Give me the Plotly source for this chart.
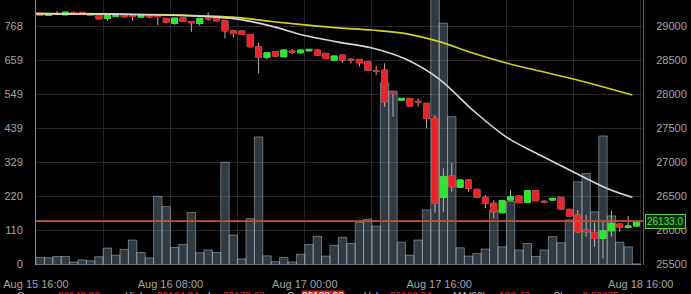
import numpy as np
import pandas as pd
import plotly.graph_objects as go

# ---------------- data ----------------
start = pd.Timestamp("2023-08-15 16:00")
n = 72
hours = [start + pd.Timedelta(hours=i) for i in range(n)]
centers = [h + pd.Timedelta(minutes=30) for h in hours]

opens = [29194, 29165, 29184, 29174, 29205, 29210, 29194, 29179, 29121, 29150,
         29170, 29160, 29140, 29159, 29155, 29121, 29047, 29129, 29076, 29047,
         29120, 29129, 29085, 28938, 28934, 28885, 28703, 28547, 28629, 28556,
         28640, 28615, 28644, 28654, 28606, 28507, 28581, 28520, 28518, 28482,
         28350, 28360, 28030, 27919, 27944, 27900, 27871, 27650, 26488, 26801,
         26635, 26743, 26606, 26488, 26400, 26262, 26448, 26507, 26415, 26585,
         26430, 26448, 26488, 26312, 26228, 26007, 25968, 25885, 25997, 26096,
         26047, 26066]
highs = [29200, 29190, 29225, 29220, 29225, 29215, 29198, 29182, 29168, 29175,
         29175, 29165, 29182, 29162, 29169, 29125, 29130, 29132, 29080, 29125,
         29209, 29135, 29090, 28945, 28940, 28890, 28762, 28620, 28634, 28660,
         28665, 28658, 28672, 28660, 28612, 28572, 28586, 28532, 28522, 28487,
         28419, 28459, 28041, 27950, 27950, 27944, 27876, 27699, 26915, 26997,
         26750, 26750, 26612, 26522, 26448, 26444, 26596, 26512, 26590, 26590,
         26448, 26480, 26493, 26318, 26302, 26228, 26115, 26129, 26291, 26100,
         26213, 26140]
lows = [29160, 29160, 29170, 29170, 29174, 29190, 29160, 29110, 29085, 29145,
        29135, 29085, 29135, 29125, 29022, 29047, 29027, 29076, 28924, 29012,
        29085, 29080, 28826, 28841, 28880, 28698, 28312, 28518, 28560, 28550,
        28596, 28610, 28640, 28575, 28525, 28500, 28468, 28459, 28409, 28355,
        28287, 27821, 27674, 27914, 27825, 27821, 27503, 26262, 26276, 26571,
        26630, 26571, 26482, 26326, 26179, 26255, 26442, 26404, 26410, 26432,
        26400, 26440, 26310, 26208, 25958, 25909, 25762, 25591, 25909, 25982,
        26032, 26060]
closes = [29165, 29184, 29180, 29213, 29200, 29194, 29165, 29115, 29165, 29165,
          29145, 29150, 29179, 29145, 29150, 29066, 29125, 29081, 29056, 29121,
          29115, 29085, 28938, 28900, 28885, 28703, 28547, 28615, 28566, 28654,
          28625, 28654, 28665, 28581, 28532, 28566, 28507, 28510, 28468, 28360,
          28340, 27894, 28018, 27944, 27831, 27890, 27650, 26400, 26791, 26644,
          26743, 26621, 26488, 26400, 26276, 26438, 26497, 26409, 26585, 26438,
          26420, 26473, 26316, 26213, 25982, 25982, 25885, 25997, 26106, 26047,
          26066, 26133]
volumes = [23, 22, 26, 26, 8, 15, 12, 25, 53, 30,
           49, 79, 39, 21, 220, 187, 55, 65, 168, 38,
           47, 39, 330, 95, 18, 148, 412, 28, 9, 23,
           8, 33, 65, 91, 27, 62, 88, 68, 136, 146,
           124, 587, 560, 72, 30, 79, 176, 900, 779, 477,
           54, 27, 36, 50, 176, 57, 203, 47, 68, 26,
           47, 90, 70, 144, 267, 294, 170, 415, 157, 72,
           57, 2]

# moving averages (read every 4 hours + last point)
ma_idx = [0, 4, 8, 12, 16, 20, 24, 28, 32, 36, 40, 44, 48, 52, 56, 60, 64, 68, 71]
ma_fast = [29191, 29188, 29187, 29179, 29166, 29150, 29110, 29007, 28868, 28772,
           28684, 28522, 28228, 27772, 27375, 27110, 26860, 26618, 26488]
ma_slow = [29191, 29187, 29184, 29179, 29172, 29157, 29132, 29076, 29025, 28981,
           28949, 28897, 28779, 28610, 28463, 28346, 28228, 28096, 27993]

last_price = 26133.0
ref_price = 26145.0

vol_ticks = [0, 110, 220, 329, 439, 549, 659, 768]
price_ticks = [25500, 26000, 26500, 27000, 27500, 28000, 28500, 29000]
x_tick_times = [start + pd.Timedelta(hours=8 * k) for k in range(10)]
x_tick_text = ["Aug 15 16:00", "", "Aug 16 08:00", "", "Aug 17 00:00", "",
               "Aug 17 16:00", "", "", "Aug 18 16:00"]

status_items = [("Open:", "#bbbbbb", None), ("26146.00", "#e8262a", None),
                ("High:", "#bbbbbb", None), ("26194.04", "#e8262a", None),
                ("L:", "#bbbbbb", None), ("26172.00 ▼", "#e8262a", None),
                ("C:", "#bbbbbb", None), ("26133.00", "#ffffff", "#e01818"),
                ("Vol:", "#bbbbbb", None), ("26166.84", "#e8262a", None),
                ("MA(99):", "#bbbbbb", None), ("133.47", "#e8262a", None),
                ("Chg:", "#bbbbbb", None), ("-0.00075", "#e8262a", None)]
status_x = [16, 57, 124, 156, 207, 222, 286, 301, 363, 389, 452, 498, 552, 578]

# ---------------- figure ----------------
RED = "#e8262a"
GREEN = "#2fe52f"
WICK = "#b4b4b4"

o = np.array(opens, float)
c = np.array(closes, float)
body_hi = np.maximum(o, c)
body_lo = np.minimum(o, c)

fig = go.Figure()

fig.add_trace(go.Bar(
    x=centers, y=volumes, yaxis="y", width=3600000,
    marker=dict(color="rgba(130,150,172,0.38)",
                line=dict(color="rgba(200,215,230,0.45)", width=1)),
    hoverinfo="skip", showlegend=False))

fig.add_trace(go.Candlestick(
    x=centers, open=opens, high=highs, low=lows, close=closes, yaxis="y2",
    increasing=dict(line=dict(color=WICK, width=1), fillcolor=WICK),
    decreasing=dict(line=dict(color=WICK, width=1), fillcolor=WICK),
    whiskerwidth=0, hoverinfo="skip", showlegend=False))

fig.add_trace(go.Candlestick(
    x=centers, open=opens, high=body_hi, low=body_lo, close=closes, yaxis="y2",
    increasing=dict(line=dict(color=GREEN, width=1), fillcolor=GREEN),
    decreasing=dict(line=dict(color=RED, width=1), fillcolor=RED),
    whiskerwidth=0, hoverinfo="skip", showlegend=False))

ma_x = [hours[i] for i in ma_idx]
fig.add_trace(go.Scatter(x=ma_x, y=ma_slow, yaxis="y2", mode="lines",
                         line=dict(color="#d2d21e", width=1.6, shape="spline"),
                         hoverinfo="skip", showlegend=False))
fig.add_trace(go.Scatter(x=ma_x, y=ma_fast, yaxis="y2", mode="lines",
                         line=dict(color="#d8d8d8", width=1.6, shape="spline"),
                         hoverinfo="skip", showlegend=False))

fig.add_shape(type="line", xref="paper", x0=0, x1=1, yref="y2",
              y0=last_price, y1=last_price, line=dict(color="#3d9a2a", width=1))
fig.add_shape(type="line", xref="paper", x0=0, x1=1, yref="y2",
              y0=ref_price, y1=ref_price, line=dict(color="#c8501e", width=1))

fig.add_annotation(x=1, xref="paper", y=last_price, yref="y2", xanchor="left",
                   xshift=2, text=f"{last_price:.1f}", showarrow=False,
                   font=dict(family="Liberation Sans", size=10, color="#3ee83e"),
                   bgcolor="#0a2a0a", bordercolor="#5fcf3a", borderwidth=1, borderpad=1)

plot_l, plot_w = 36, 607
for (txt, col, bg), px in zip(status_items, status_x):
    kw = dict(bgcolor=bg) if bg else {}
    fig.add_annotation(x=(px - plot_l) / plot_w, xref="paper", y=-0.096, yref="paper",
                       xanchor="left", yanchor="top", text=txt, showarrow=False,
                       font=dict(family="Liberation Sans", size=10, color=col),
                       borderpad=0, **kw)

axis_font = dict(family="Liberation Sans", size=11, color="#a4a4a4")
grid_col = "#262626"

fig.update_layout(
    width=691, height=294,
    margin=dict(l=36, r=48, t=0, b=29),
    paper_bgcolor="#000000", plot_bgcolor="#000000",
    showlegend=False, bargap=0, boxgap=0.3, boxgroupgap=0,
    xaxis=dict(type="date",
               range=[start, start + pd.Timedelta(hours=72, minutes=16)],
               tickvals=x_tick_times, ticktext=x_tick_text,
               showgrid=True, gridcolor=grid_col, gridwidth=1,
               ticks="outside", ticklen=9, tickcolor="rgba(0,0,0,0)",
               tickfont=axis_font, showline=False, zeroline=False,
               rangeslider=dict(visible=False), fixedrange=True),
    yaxis=dict(side="left", range=[-1.6, 853.9], tickvals=vol_ticks,
               ticktext=[str(v) for v in vol_ticks],
               showgrid=False, zeroline=False, showline=True, linecolor="#8c8c8c",
               ticks="outside", ticklen=10, tickcolor="rgba(0,0,0,0)",
               tickfont=axis_font, fixedrange=True),
    yaxis2=dict(side="right", overlaying="y", range=[25492.6, 29391.4],
                tickvals=price_ticks, ticktext=[str(v) for v in price_ticks],
                showgrid=True, gridcolor=grid_col, gridwidth=1,
                zeroline=False, showline=True, linecolor="#5a5a5a",
                ticks="outside", ticklen=10, tickcolor="rgba(0,0,0,0)",
                tickfont=axis_font, fixedrange=True),
)

fig.write_html("out.html", config={"displayModeBar": False, "staticPlot": True})
